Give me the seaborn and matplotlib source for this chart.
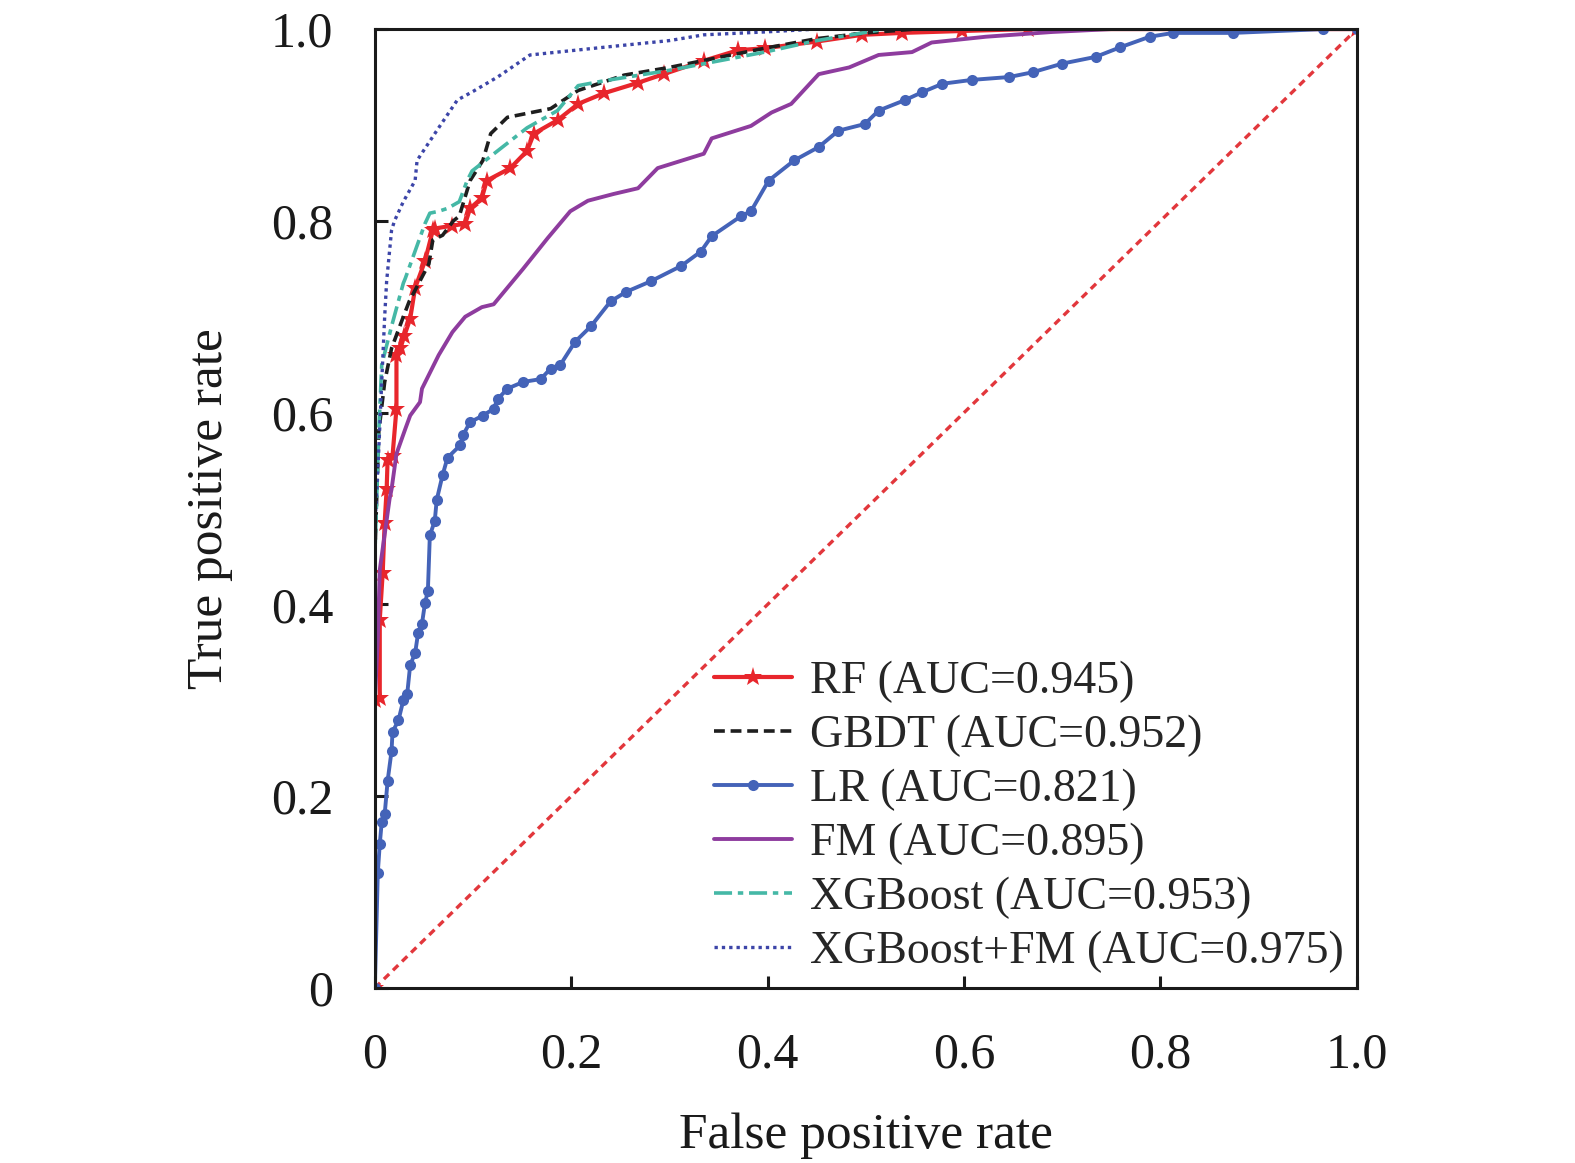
import matplotlib
matplotlib.use("Agg")
import matplotlib.pyplot as plt
import seaborn as sns

# ROC points
rf_fpr = [0, 0, 0.005, 0.005, 0.008, 0.01, 0.012, 0.013, 0.018, 0.022, 0.022, 0.026, 0.03, 0.036, 0.041,
          0.051, 0.059, 0.061, 0.079, 0.092, 0.097, 0.109, 0.114, 0.138, 0.155, 0.162, 0.186, 0.207, 0.233,
          0.268, 0.294, 0.335, 0.37, 0.397, 0.45, 0.496, 0.537, 0.598, 0.665, 1.0]
rf_tpr = [0, 0.30, 0.302, 0.384, 0.433, 0.485, 0.52, 0.551, 0.555, 0.604, 0.66, 0.667, 0.68, 0.698, 0.73,
          0.758, 0.79, 0.792, 0.795, 0.797, 0.813, 0.824, 0.842, 0.855, 0.873, 0.891, 0.905, 0.922, 0.933,
          0.944, 0.953, 0.967, 0.978, 0.98, 0.987, 0.994, 0.996, 0.998, 1.0, 1.0]

gbdt_fpr = [0, 0, 0.004, 0.01, 0.017, 0.029, 0.035, 0.055, 0.059, 0.069, 0.08, 0.086, 0.097, 0.11, 0.118,
            0.135, 0.179, 0.207, 0.254, 0.30, 0.353, 0.397, 0.45, 0.5, 0.55, 1.0]
gbdt_tpr = [0, 0.45, 0.58, 0.632, 0.667, 0.70, 0.716, 0.755, 0.78, 0.785, 0.80, 0.805, 0.842, 0.863, 0.891,
            0.908, 0.917, 0.936, 0.952, 0.96, 0.971, 0.98, 0.99, 0.996, 1.0, 1.0]

lr_fpr = [0, 0.003, 0.005, 0.007, 0.01, 0.013, 0.017, 0.018, 0.024, 0.029, 0.033, 0.036, 0.041, 0.044, 0.048,
          0.051, 0.054, 0.056, 0.061, 0.063, 0.069, 0.074, 0.087, 0.09, 0.097, 0.11, 0.121, 0.125, 0.135, 0.151,
          0.169, 0.179, 0.189, 0.204, 0.22, 0.24, 0.256, 0.281, 0.312, 0.332, 0.343, 0.373, 0.383, 0.401, 0.427,
          0.452, 0.472, 0.499, 0.513, 0.54, 0.557, 0.578, 0.608, 0.646, 0.67, 0.70, 0.734, 0.759, 0.789, 0.813,
          0.874, 0.966, 1.0]
lr_tpr = [0, 0.12, 0.15, 0.173, 0.181, 0.216, 0.247, 0.267, 0.279, 0.30, 0.307, 0.337, 0.349, 0.37, 0.38,
          0.401, 0.414, 0.472, 0.487, 0.509, 0.535, 0.553, 0.566, 0.577, 0.59, 0.597, 0.604, 0.614, 0.625, 0.632,
          0.635, 0.646, 0.65, 0.674, 0.69, 0.716, 0.726, 0.737, 0.753, 0.768, 0.784, 0.805, 0.81, 0.842, 0.863,
          0.877, 0.894, 0.901, 0.915, 0.926, 0.934, 0.943, 0.947, 0.95, 0.955, 0.964, 0.971, 0.981, 0.992, 0.996,
          0.996, 1.0, 1.0]

fm_fpr = [0, 0, 0.003, 0.005, 0.015, 0.017, 0.022, 0.031, 0.036, 0.046, 0.048, 0.065, 0.079, 0.092, 0.109,
          0.121, 0.151, 0.176, 0.199, 0.217, 0.243, 0.268, 0.288, 0.335, 0.343, 0.383, 0.404, 0.424, 0.452,
          0.483, 0.513, 0.547, 0.567, 0.622, 0.69, 0.75, 1.0]
fm_tpr = [0, 0.30, 0.363, 0.436, 0.51, 0.52, 0.557, 0.583, 0.597, 0.611, 0.625, 0.66, 0.684, 0.70, 0.71,
          0.713, 0.75, 0.782, 0.81, 0.821, 0.828, 0.834, 0.855, 0.87, 0.886, 0.899, 0.913, 0.922, 0.953,
          0.96, 0.973, 0.976, 0.986, 0.992, 0.997, 1.0, 1.0]

xgb_fpr = [0, 0, 0.004, 0.007, 0.017, 0.029, 0.031, 0.051, 0.056, 0.065, 0.074, 0.086, 0.094, 0.099, 0.125,
           0.155, 0.186, 0.207, 0.233, 0.30, 0.397, 0.45, 0.52, 1.0]
xgb_tpr = [0, 0.45, 0.58, 0.65, 0.69, 0.735, 0.74, 0.797, 0.808, 0.81, 0.813, 0.82, 0.842, 0.852, 0.873,
           0.897, 0.915, 0.941, 0.946, 0.957, 0.976, 0.988, 1.0, 1.0]

xgbfm_fpr = [0, 0, 0.004, 0.007, 0.01, 0.012, 0.017, 0.02, 0.029, 0.041, 0.043, 0.063, 0.084, 0.1, 0.125,
             0.158, 0.233, 0.30, 0.335, 0.397, 0.45, 1.0]
xgbfm_tpr = [0, 0.48, 0.562, 0.632, 0.70, 0.737, 0.79, 0.80, 0.82, 0.842, 0.863, 0.894, 0.926, 0.935, 0.95,
             0.973, 0.981, 0.988, 0.994, 0.997, 1.0, 1.0]

labels = ["RF (AUC=0.945)", "GBDT (AUC=0.952)", "LR (AUC=0.821)", "FM (AUC=0.895)",
          "XGBoost (AUC=0.953)", "XGBoost+FM (AUC=0.975)"]
ticks = [0, 0.2, 0.4, 0.6, 0.8, 1.0]
tick_labels = ["0", "0.2", "0.4", "0.6", "0.8", "1.0"]

sns.set_style("white")
plt.rcParams['font.family'] = ['Liberation Serif', 'DejaVu Serif']

fig = plt.figure(figsize=(15.75, 11.63), dpi=100)
ax = fig.add_axes([0.238, 0.1505, 0.6235, 0.8245])

# chance line
sns.lineplot(x=[0, 1], y=[0, 1], ax=ax, color="#e2373c", linestyle=(0, (2.2, 1.6)), linewidth=2.4,
             sort=False, estimator=None, label="_nolegend_")

sns.lineplot(x=rf_fpr, y=rf_tpr, ax=ax, color="#e8262c", linewidth=3.0, marker="*", markersize=14,
             markeredgewidth=0, sort=False, estimator=None, label=labels[0])
sns.lineplot(x=gbdt_fpr, y=gbdt_tpr, ax=ax, color="#1e1e1e", linewidth=2.6, linestyle=(0, (3, 1.6)),
             sort=False, estimator=None, label=labels[1])
sns.lineplot(x=lr_fpr, y=lr_tpr, ax=ax, color="#4463b8", linewidth=2.8, marker="o", markersize=8,
             markeredgewidth=0, sort=False, estimator=None, label=labels[2])
sns.lineplot(x=fm_fpr, y=fm_tpr, ax=ax, color="#8e3c9e", linewidth=2.8,
             sort=False, estimator=None, label=labels[3])
sns.lineplot(x=xgb_fpr, y=xgb_tpr, ax=ax, color="#45b8a6", linewidth=2.6, linestyle=(0, (5, 1.6, 1.5, 1.6)),
             sort=False, estimator=None, label=labels[4])
sns.lineplot(x=xgbfm_fpr, y=xgbfm_tpr, ax=ax, color="#3c45a8", linewidth=2.4, linestyle=(0, (1, 1.2)),
             sort=False, estimator=None, label=labels[5])

ax.set_xlim(0, 1)
ax.set_ylim(0, 1)
ax.set_xticks(ticks)
ax.set_xticklabels(tick_labels)
ax.set_yticks(ticks)
ax.set_yticklabels(tick_labels)
ax.tick_params(axis="both", direction="in", length=9, width=2.2, labelsize=36, colors="#1a1a1a",
               bottom=True, left=True, top=False, right=False)
ax.tick_params(axis="x", pad=32)
ax.tick_params(axis="y", pad=30)
for s in ax.spines.values():
    s.set_linewidth(2.2)
    s.set_color("#1a1a1a")

ax.set_xlabel("False positive rate", fontsize=37, labelpad=24, color="#1a1a1a")
ax.set_ylabel("True positive rate", fontsize=37, labelpad=27, color="#1a1a1a")

ax.legend(loc="lower left", bbox_to_anchor=(0.345, 0.016), frameon=False, fontsize=33,
          handlelength=1.7, handletextpad=0.4, labelspacing=0.25, borderpad=0, borderaxespad=0)

fig.savefig("out.png", dpi=100)
